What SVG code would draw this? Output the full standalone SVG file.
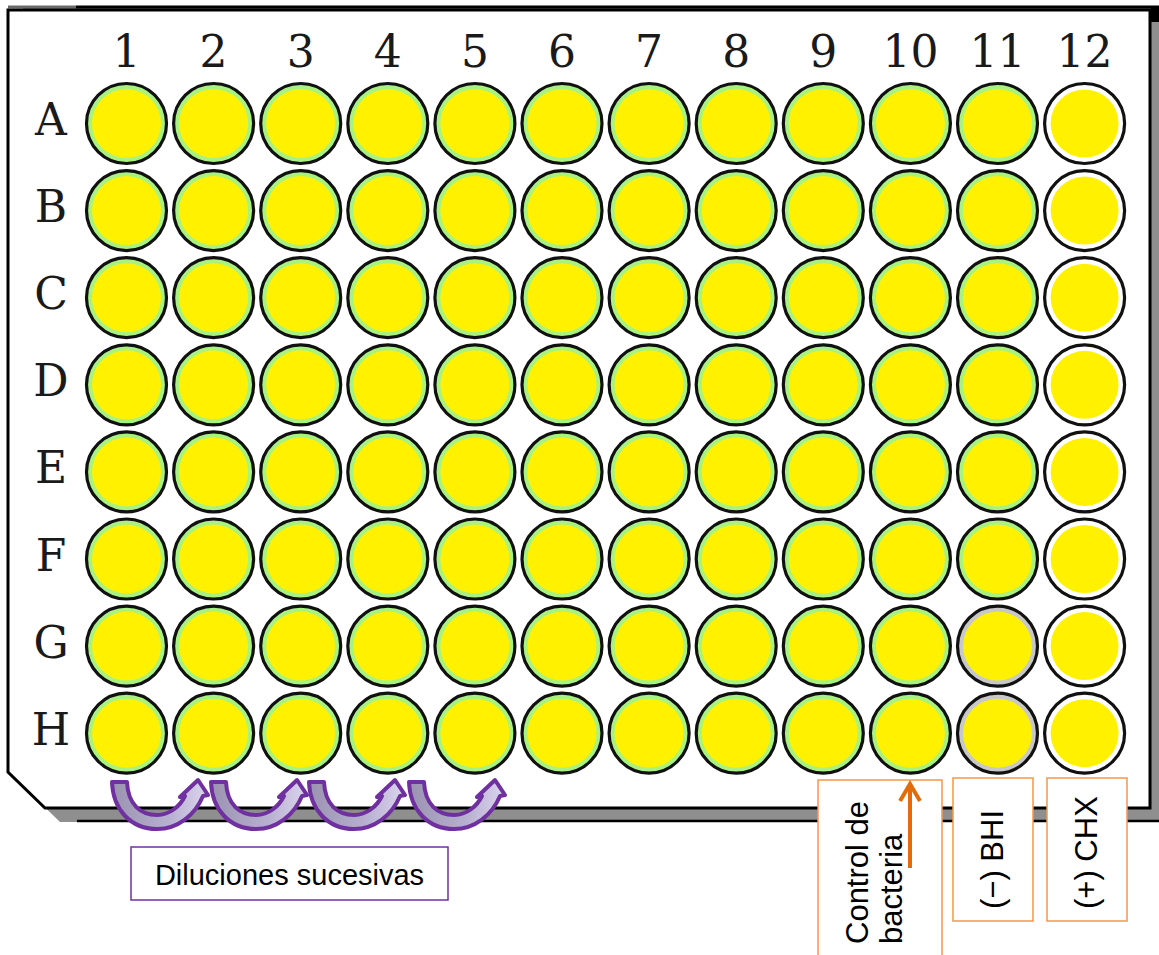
<svg xmlns="http://www.w3.org/2000/svg" xmlns:xlink="http://www.w3.org/1999/xlink" width="1159" height="955" viewBox="0 0 1159 955">
<style>
.lbl{font-family:"DejaVu Serif",serif;font-size:44px;fill:#1a1a1a;text-anchor:middle}
.txt{font-family:"Liberation Sans",Arial,sans-serif;font-size:29px;fill:#000}
.rot{font-size:31px}
.obox{fill:#fff;stroke:#f79646;stroke-width:1.5}
.well{stroke:#111;stroke-width:3.2}
.yel{fill:#fff100}
</style>
<defs>
<linearGradient id="ag" x1="0" y1="0" x2="1" y2="0">
<stop offset="0" stop-color="#9a93b0"/>
<stop offset="0.6" stop-color="#b8b0d0"/>
<stop offset="1" stop-color="#dcd6ef"/>
</linearGradient>
<g id="wg"><circle r="40" class="well" fill="#a9f280"/><circle r="34.5" class="yel"/></g>
<g id="wy"><circle r="40" class="well" fill="#c8c8c8"/><circle r="34.5" class="yel"/></g>
<g id="ww"><circle r="40" class="well" fill="#ffffff"/><circle r="34" class="yel"/></g>
<path id="arc" d="M112,782 L127,782 C128,805 141,815 157,815 C170,815 180,806 185,796 L180,797 L198,780 L208,795 L203,796 C195,815 178,829 157,829 C131,829 113,810 112,782 Z" fill="url(#ag)" stroke="#7030a0" stroke-width="4" stroke-linejoin="round"/>
</defs>
<rect width="1159" height="955" fill="#fff"/>
<g id="plate">
<path d="M8,6 H1159 V822 H77 L60,822 L23,786 V6 Z" fill="#8f8f8f"/>
<line x1="76" y1="7" x2="1159" y2="7" stroke="#000" stroke-width="3"/>
<line x1="8" y1="7" x2="76" y2="7" stroke="#6a6a6a" stroke-width="3"/>
<rect x="1151" y="6" width="8" height="16" fill="#000"/>
<line x1="77" y1="821" x2="1159" y2="821" stroke="#000" stroke-width="2.5"/>
<path d="M8,10 H1150 V808 H45 L8,772 Z" fill="#fff" stroke="#000" stroke-width="3"/>
</g>
<g id="col-labels" class="lbl">
<text x="126.5" y="67">1</text><text x="213.6" y="67">2</text><text x="300.7" y="67">3</text><text x="387.8" y="67">4</text><text x="474.9" y="67">5</text><text x="562" y="67">6</text><text x="649.1" y="67">7</text><text x="736.2" y="67">8</text><text x="823.3" y="67">9</text><text x="910.4" y="67">10</text><text x="997.5" y="67">11</text><text x="1084.6" y="67">12</text>
</g>
<g id="row-labels" class="lbl">
<text x="51" y="135">A</text><text x="51" y="222.1">B</text><text x="51" y="309.2">C</text><text x="51" y="396.3">D</text><text x="51" y="483.4">E</text><text x="51" y="570.5">F</text><text x="51" y="657.6">G</text><text x="51" y="744.7">H</text>
</g>
<g id="wells">
<g id="row-A" transform="translate(0,123.5)"><use href="#wg" x="126.5"/><use href="#wg" x="213.6"/><use href="#wg" x="300.7"/><use href="#wg" x="387.8"/><use href="#wg" x="474.9"/><use href="#wg" x="562"/><use href="#wg" x="649.1"/><use href="#wg" x="736.2"/><use href="#wg" x="823.3"/><use href="#wg" x="910.4"/><use href="#wg" x="997.5"/><use href="#ww" x="1084.6"/></g>
<g id="row-B" transform="translate(0,210.6)"><use href="#wg" x="126.5"/><use href="#wg" x="213.6"/><use href="#wg" x="300.7"/><use href="#wg" x="387.8"/><use href="#wg" x="474.9"/><use href="#wg" x="562"/><use href="#wg" x="649.1"/><use href="#wg" x="736.2"/><use href="#wg" x="823.3"/><use href="#wg" x="910.4"/><use href="#wg" x="997.5"/><use href="#ww" x="1084.6"/></g>
<g id="row-C" transform="translate(0,297.7)"><use href="#wg" x="126.5"/><use href="#wg" x="213.6"/><use href="#wg" x="300.7"/><use href="#wg" x="387.8"/><use href="#wg" x="474.9"/><use href="#wg" x="562"/><use href="#wg" x="649.1"/><use href="#wg" x="736.2"/><use href="#wg" x="823.3"/><use href="#wg" x="910.4"/><use href="#wg" x="997.5"/><use href="#ww" x="1084.6"/></g>
<g id="row-D" transform="translate(0,384.8)"><use href="#wg" x="126.5"/><use href="#wg" x="213.6"/><use href="#wg" x="300.7"/><use href="#wg" x="387.8"/><use href="#wg" x="474.9"/><use href="#wg" x="562"/><use href="#wg" x="649.1"/><use href="#wg" x="736.2"/><use href="#wg" x="823.3"/><use href="#wg" x="910.4"/><use href="#wg" x="997.5"/><use href="#ww" x="1084.6"/></g>
<g id="row-E" transform="translate(0,471.9)"><use href="#wg" x="126.5"/><use href="#wg" x="213.6"/><use href="#wg" x="300.7"/><use href="#wg" x="387.8"/><use href="#wg" x="474.9"/><use href="#wg" x="562"/><use href="#wg" x="649.1"/><use href="#wg" x="736.2"/><use href="#wg" x="823.3"/><use href="#wg" x="910.4"/><use href="#wg" x="997.5"/><use href="#ww" x="1084.6"/></g>
<g id="row-F" transform="translate(0,559)"><use href="#wg" x="126.5"/><use href="#wg" x="213.6"/><use href="#wg" x="300.7"/><use href="#wg" x="387.8"/><use href="#wg" x="474.9"/><use href="#wg" x="562"/><use href="#wg" x="649.1"/><use href="#wg" x="736.2"/><use href="#wg" x="823.3"/><use href="#wg" x="910.4"/><use href="#wg" x="997.5"/><use href="#ww" x="1084.6"/></g>
<g id="row-G" transform="translate(0,646.1)"><use href="#wg" x="126.5"/><use href="#wg" x="213.6"/><use href="#wg" x="300.7"/><use href="#wg" x="387.8"/><use href="#wg" x="474.9"/><use href="#wg" x="562"/><use href="#wg" x="649.1"/><use href="#wg" x="736.2"/><use href="#wg" x="823.3"/><use href="#wg" x="910.4"/><use href="#wy" x="997.5"/><use href="#ww" x="1084.6"/></g>
<g id="row-H" transform="translate(0,733.2)"><use href="#wg" x="126.5"/><use href="#wg" x="213.6"/><use href="#wg" x="300.7"/><use href="#wg" x="387.8"/><use href="#wg" x="474.9"/><use href="#wg" x="562"/><use href="#wg" x="649.1"/><use href="#wg" x="736.2"/><use href="#wg" x="823.3"/><use href="#wg" x="910.4"/><use href="#wy" x="997.5"/><use href="#ww" x="1084.6"/></g>
</g>
<g id="connectors">
<use href="#arc"/>
<use href="#arc" x="99"/>
<use href="#arc" x="197"/>
<use href="#arc" x="297"/>
</g>
<g id="diluciones">
<rect x="131" y="847" width="317" height="53" fill="#fff" stroke="#7030a0" stroke-width="1.5"/>
<text class="txt" x="289.5" y="885" text-anchor="middle" font-size="28.5">Diluciones sucesivas</text>
</g>
<g id="control">
<rect class="obox" x="818" y="780" width="124" height="185"/>
<text class="txt rot" transform="translate(868,944) rotate(-90)">Control de</text>
<text class="txt rot" transform="translate(902,944) rotate(-90)">bacteria</text>
<g stroke="#e36c09" stroke-width="4" fill="none">
<line x1="910" y1="868" x2="910" y2="784"/>
<polyline points="900,801 910,784 920,801"/>
</g>
</g>
<g id="bhi">
<rect class="obox" x="953" y="778" width="80" height="143"/>
<text class="txt rot" transform="translate(1003,909) rotate(-90)">(−) BHI</text>
</g>
<g id="chx">
<rect class="obox" x="1047" y="778" width="80" height="143"/>
<text class="txt rot" transform="translate(1097,909) rotate(-90)">(+) CHX</text>
</g>
</svg>
